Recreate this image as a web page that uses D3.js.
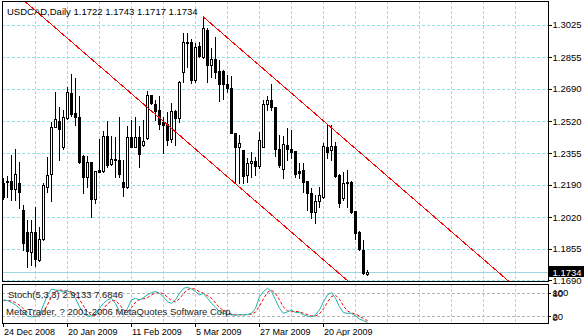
<!DOCTYPE html>
<html><head><meta charset="utf-8">
<script src="https://cdn.jsdelivr.net/npm/d3@7"></script>
<style>
body{margin:0;background:#fff}
svg{display:block}
text{font-family:"Liberation Sans",Arial,sans-serif;fill:#000}
</style>
</head><body>
<script>
// USDCAD daily OHLC, 24 Dec 2008 .. 5 May 2009
const symbolTitle = "USDCAD,Daily";
const opens = [1.2197,1.2209,1.2209,1.2166,1.2197,1.2058,1.1945,1.1840,1.1945,1.1797,
  1.1905,1.2176,1.2246,1.2489,1.2522,1.2385,1.2536,1.2670,1.2562,1.2541,
  1.2341,1.2228,1.2310,1.2113,1.2267,1.2263,1.2446,1.2298,1.2322,1.2319,
  1.2202,1.2176,1.2437,1.2388,1.2437,1.2397,1.2432,1.2656,1.2611,1.2580,
  1.2519,1.2507,1.2427,1.2576,1.2536,1.2776,1.2933,1.2936,1.2736,1.2914,
  1.2858,1.2997,1.2815,1.2844,1.2783,1.2783,1.2715,1.2693,1.2461,1.2385,
  1.2371,1.2240,1.2301,1.2314,1.2289,1.2388,1.2609,1.2632,1.2594,1.2374,
  1.2270,1.2397,1.2374,1.2366,1.2261,1.2267,1.2209,1.2145,1.2049,1.2105,
  1.2124,1.2388,1.2371,1.2392,1.2240,1.2119,1.2206,1.2202,1.2052,1.1945,
  1.1849,1.1722];
const highs = [1.2223,1.2237,1.2345,1.2374,1.2310,1.2084,1.2006,1.2006,1.2072,1.1967,
  1.2200,1.2333,1.2519,1.2675,1.2594,1.2580,1.2702,1.2768,1.2745,1.2653,
  1.2345,1.2340,1.2310,1.2263,1.2427,1.2472,1.2524,1.2446,1.2441,1.2541,
  1.2319,1.2496,1.2527,1.2545,1.2496,1.2527,1.2679,1.2658,1.2632,1.2653,
  1.2541,1.2571,1.2615,1.2580,1.2733,1.2980,1.2980,1.2949,1.2928,1.2936,
  1.3067,1.3006,1.2902,1.2959,1.2841,1.2789,1.2762,1.2757,1.2461,1.2449,
  1.2371,1.2327,1.2362,1.2336,1.2463,1.2632,1.2653,1.2716,1.2594,1.2449,
  1.2444,1.2484,1.2475,1.2367,1.2301,1.2301,1.2209,1.2171,1.2136,1.2180,
  1.2406,1.2501,1.2501,1.2414,1.2244,1.2258,1.2267,1.2209,1.2052,1.1950,
  1.1901,1.1743];
const lows = [1.2113,1.2127,1.2110,1.2110,1.2066,1.1849,1.1758,1.1771,1.1765,1.1793,
  1.1901,1.2153,1.2106,1.2489,1.2319,1.2374,1.2531,1.2548,1.2501,1.2305,
  1.2148,1.2180,1.2023,1.2096,1.2258,1.2258,1.2284,1.2293,1.2232,1.2232,
  1.2133,1.2171,1.2388,1.2385,1.2280,1.2392,1.2427,1.2611,1.2527,1.2479,
  1.2357,1.2397,1.2414,1.2397,1.2519,1.2728,1.2806,1.2719,1.2728,1.2858,
  1.2849,1.2728,1.2754,1.2745,1.2628,1.2635,1.2675,1.2458,1.2197,1.2200,
  1.2200,1.2206,1.2232,1.2240,1.2275,1.2385,1.2580,1.2580,1.2340,1.2284,
  1.2223,1.2319,1.2327,1.2232,1.2223,1.2153,1.2058,1.2014,1.1988,1.2075,
  1.2119,1.2327,1.2319,1.2232,1.2075,1.2110,1.2075,1.2044,1.1905,1.1849,
  1.1724,1.1717];
const closes = [1.2127,1.2206,1.2166,1.2246,1.2153,1.1887,1.1845,1.1941,1.1800,1.1905,
  1.2188,1.2240,1.2493,1.2531,1.2479,1.2541,1.2672,1.2559,1.2541,1.2310,
  1.2228,1.2307,1.2113,1.2263,1.2258,1.2446,1.2293,1.2324,1.2320,1.2246,
  1.2176,1.2437,1.2388,1.2437,1.2350,1.2420,1.2656,1.2615,1.2576,1.2507,
  1.2501,1.2423,1.2575,1.2536,1.2728,1.2933,1.2929,1.2736,1.2910,1.2863,
  1.3006,1.2815,1.2844,1.2780,1.2715,1.2715,1.2696,1.2461,1.2385,1.2409,
  1.2237,1.2301,1.2315,1.2289,1.2423,1.2609,1.2632,1.2594,1.2374,1.2293,
  1.2400,1.2374,1.2362,1.2246,1.2253,1.2202,1.2145,1.2049,1.2105,1.2136,
  1.2392,1.2362,1.2392,1.2237,1.2096,1.2197,1.2197,1.2049,1.1939,1.1852,
  1.1727,1.1734];

// Stochastic(5,3,3): main and signal
const stochMain = [62,60,55,49,40,29,20,18,18,23,
  49,75,90,88,86,84,86,79,66,44,
  27,20,20,25,40,53,62,66,53,31,
  23,40,62,66,62,68,75,81,84,79,
  70,57,53,62,79,92,95,90,84,75,
  79,66,53,43,31,27,25,23,22,24,
  23,24,27,40,70,84,92,84,62,40,
  27,31,36,29,29,23,20,18,23,36,
  57,75,81,66,44,29,27,27,20,12,
  8,2.9133];
const stochSignal = [60,61,59,55,48,39,30,22,19,20,
  30,49,71,84,88,86,85,83,77,63,
  46,30,22,22,28,39,52,60,60,50,
  36,31,42,56,63,65,68,75,80,81,
  78,69,60,57,65,78,89,92,90,83,
  79,73,66,54,42,34,28,25,23,23,
  23,24,25,30,46,65,82,87,79,62,
  43,33,31,32,31,27,24,20,20,26,
  39,56,71,74,64,46,33,28,25,20,
  13,7.6846];
const stochLevels = [80, 20];
const stochScaleLabels = [100, 80, 20, 0];

const priceTicks = [1.3025,1.2855,1.2690,1.2520,1.2355,1.2190,1.2020,1.1855,1.1690];
const dateTickBars = [0,16,32,48,64,80];
const dateTickLabels = ["24 Dec 2008","20 Jan 2009","11 Feb 2009","5 Mar 2009","27 Mar 2009","20 Apr 2009"];

// equidistant price channel: upper ray from the 9 Mar high, lower line through the 19 Mar low
const channelUpperAnchor = {bar: 50, price: 1.3067};
const channelUpperSecond = {bar: 91, price: 1.2326};
const channelLowerAnchor = {bar: 58, price: 1.2197};

const W = 584, H = 336;
const main = {left: 2, right: 548, top: 1, bottom: 281};
const sub = {top: 284, bottom: 323};

const svg = d3.select("body").append("svg").attr("width", W).attr("height", H);

const x = d3.scaleLinear().domain([0, 1]).range([3, 7]);
const y = d3.scaleLinear().domain([1.1690, 1.3025]).range([280.4, 24.7]);
const ys = d3.scaleLinear().domain([0, 100]).range([323.7, 285.3]);

const defs = svg.append("defs");
defs.append("clipPath").attr("id", "clipMain").append("rect")
  .attr("x", main.left + 1).attr("y", main.top + 1)
  .attr("width", main.right - main.left - 1).attr("height", main.bottom - main.top - 1);
defs.append("clipPath").attr("id", "clipSub").append("rect")
  .attr("x", main.left + 1).attr("y", sub.top + 1)
  .attr("width", main.right - main.left - 1).attr("height", sub.bottom - sub.top - 1);

const gridColor = "#8fe4ea";
const px = v => Math.round(v) + 0.5;

// grid, main pane
const gMain = svg.append("g").attr("clip-path", "url(#clipMain)").attr("shape-rendering", "crispEdges");
gMain.selectAll("line.h").data(priceTicks).join("line")
  .attr("x1", main.left).attr("x2", main.right)
  .attr("y1", d => px(y(d))).attr("y2", d => px(y(d)))
  .attr("stroke", gridColor).attr("stroke-dasharray", "3,2");
const gridBars = d3.range(8, 136, 8);
gMain.selectAll("line.v").data(gridBars).join("line")
  .attr("x1", d => x(d) + 0.5).attr("x2", d => x(d) + 0.5)
  .attr("y1", main.top).attr("y2", main.bottom)
  .attr("stroke", gridColor).attr("stroke-dasharray", "3,2");

// grid, stochastic pane
const gSub = svg.append("g").attr("clip-path", "url(#clipSub)").attr("shape-rendering", "crispEdges");
gSub.selectAll("line.v").data(gridBars).join("line")
  .attr("x1", d => x(d) + 0.5).attr("x2", d => x(d) + 0.5)
  .attr("y1", sub.top).attr("y2", sub.bottom)
  .attr("stroke", gridColor).attr("stroke-dasharray", "3,2");
gSub.selectAll("line.lvl").data(stochLevels).join("line")
  .attr("x1", main.left).attr("x2", main.right)
  .attr("y1", d => px(ys(d))).attr("y2", d => px(ys(d)))
  .attr("stroke", "#b4b4b4").attr("stroke-dasharray", "3,2");

// bid line
const lastClose = closes[closes.length - 1];
gMain.append("line")
  .attr("x1", main.left).attr("x2", main.right)
  .attr("y1", px(y(lastClose))).attr("y2", px(y(lastClose)))
  .attr("stroke", "#9ed8e4");

// candles
const bars = d3.range(opens.length).map(i => ({i, o: opens[i], h: highs[i], l: lows[i], c: closes[i]}));
const gc = gMain.append("g");
gc.selectAll("line.wick").data(bars).join("line")
  .attr("x1", d => x(d.i) + 0.5).attr("x2", d => x(d.i) + 0.5)
  .attr("y1", d => Math.round(y(d.h))).attr("y2", d => Math.round(y(d.l)) + 1)
  .attr("stroke", "#000");
bars.forEach(d => {
  const yo = Math.round(y(d.o)), yc = Math.round(y(d.c));
  const top = Math.min(yo, yc), bot = Math.max(yo, yc);
  if (bot - top < 1) {
    gc.append("rect").attr("x", x(d.i) - 1).attr("y", top).attr("width", 3).attr("height", 1).attr("fill", "#000");
  } else if (d.c > d.o) {
    gc.append("rect").attr("x", x(d.i) - 0.5).attr("y", top + 0.5).attr("width", 2).attr("height", bot - top)
      .attr("fill", "#fff").attr("stroke", "#000");
  } else {
    gc.append("rect").attr("x", x(d.i) - 1).attr("y", top).attr("width", 3).attr("height", bot - top + 1).attr("fill", "#000");
  }
});

// channel lines
const slope = (channelUpperSecond.price - channelUpperAnchor.price) / (channelUpperSecond.bar - channelUpperAnchor.bar);
const gch = svg.append("g").attr("clip-path", "url(#clipMain)");
const upperEnd = 140;
gch.append("line")
  .attr("x1", x(channelUpperAnchor.bar)).attr("y1", y(channelUpperAnchor.price))
  .attr("x2", x(upperEnd)).attr("y2", y(channelUpperAnchor.price + slope * (upperEnd - channelUpperAnchor.bar)))
  .attr("stroke", "#ff0000").attr("shape-rendering", "crispEdges");
const lowStart = -10;
gch.append("line")
  .attr("x1", x(lowStart)).attr("y1", y(channelLowerAnchor.price + slope * (lowStart - channelLowerAnchor.bar)))
  .attr("x2", x(upperEnd)).attr("y2", y(channelLowerAnchor.price + slope * (upperEnd - channelLowerAnchor.bar)))
  .attr("stroke", "#ff0000").attr("shape-rendering", "crispEdges");

// stochastic lines
const gst = svg.append("g").attr("clip-path", "url(#clipSub)");
const lineK = d3.line().x((d, i) => x(i) + 0.5).y(d => ys(d));
gst.append("path").attr("d", lineK(stochSignal)).attr("fill", "none")
  .attr("stroke", "#ff0000").attr("stroke-dasharray", "3,2");
gst.append("path").attr("d", lineK(stochMain)).attr("fill", "none")
  .attr("stroke", "#20b2aa");

// frames
const gf = svg.append("g").attr("shape-rendering", "crispEdges").attr("fill", "none").attr("stroke", "#000");
gf.append("rect").attr("x", main.left + 0.5).attr("y", main.top + 0.5)
  .attr("width", main.right - main.left).attr("height", main.bottom - main.top);
gf.append("rect").attr("x", main.left + 0.5).attr("y", sub.top + 0.5)
  .attr("width", main.right - main.left).attr("height", sub.bottom - sub.top);

// price axis
const ga = svg.append("g").attr("shape-rendering", "crispEdges");
ga.selectAll("line").data(priceTicks).join("line")
  .attr("x1", main.right).attr("x2", main.right + 4)
  .attr("y1", d => px(y(d))).attr("y2", d => px(y(d))).attr("stroke", "#000");
svg.append("g").selectAll("text").data(priceTicks).join("text")
  .attr("x", main.right + 4.5).attr("y", d => y(d) + 3.5)
  .style("font-size", "9.5px")
  .text(d => d.toFixed(4));

// last price box
const yl = Math.round(y(lastClose));
svg.append("rect").attr("x", main.right + 1).attr("y", yl - 6).attr("width", W - main.right - 1).attr("height", 11)
  .attr("fill", "#000");
svg.append("text").attr("x", main.right + 4.5).attr("y", yl + 3.5)
  .style("font-size", "9.5px").style("fill", "#fff").text(lastClose.toFixed(4));

// stochastic scale labels: 100/80 and 20/0 share the cramped pane edges
const scaleLabelY = {100: 292.5, 80: 293.5, 20: 316.5, 0: 317};
svg.append("g").selectAll("text").data(stochScaleLabels).join("text")
  .attr("x", main.right + 4.5).attr("y", d => scaleLabelY[d] + 3.5)
  .style("font-size", "9.5px")
  .text(d => String(d));
ga.selectAll("line.sl").data(stochLevels).join("line")
  .attr("x1", main.right).attr("x2", main.right + 3)
  .attr("y1", d => px(ys(d))).attr("y2", d => px(ys(d))).attr("stroke", "#000");

// time axis
ga.selectAll("line.t").data(dateTickBars).join("line")
  .attr("x1", d => x(d) + 0.5).attr("x2", d => x(d) + 0.5)
  .attr("y1", sub.bottom).attr("y2", sub.bottom + 4).attr("stroke", "#000");
svg.append("g").selectAll("text").data(dateTickBars).join("text")
  .attr("x", d => x(d) + 1).attr("y", 334.5)
  .style("font-size", "9px")
  .text((d, i) => dateTickLabels[i]);

// titles
const last = opens.length - 1;
svg.append("text").attr("x", 7).attr("y", 15).style("font-size", "9.5px")
  .text(symbolTitle + "  " + [opens[last], highs[last], lows[last], closes[last]].map(v => v.toFixed(4)).join(" "));
svg.append("text").attr("x", 8).attr("y", 298).style("font-size", "9.5px").style("fill", "#222")
  .text("Stoch(5,3,3) " + stochMain[last].toFixed(4) + " " + stochSignal[last].toFixed(4));
svg.append("text").attr("x", 6).attr("y", 315).style("font-size", "9.5px").style("fill", "#222")
  .text("MetaTrader, ? 2001-2006 MetaQuotes Software Corp.");
</script>
</body></html>
